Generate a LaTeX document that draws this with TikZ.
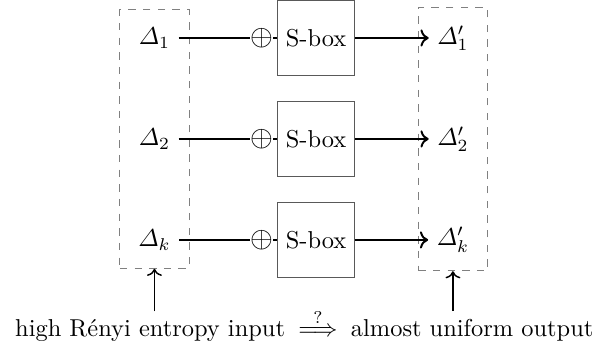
\documentclass[tikz,border=0pt]{standalone}
\usepackage{amsmath,amssymb}
\usetikzlibrary{positioning,fit,arrows.meta}

\begin{document}
\begin{tikzpicture}[
  sbox/.style={rectangle, draw=black!65, minimum width=1.108cm,
               minimum height=1.079cm},
  xorop/.style={inner sep=0pt, font=\large},
  frame/.style={draw=gray, dashed, inner xsep=4pt, inner ysep=3.9pt},
  wire/.style={thick},
  arr/.style={->, thick},
  up/.style={->, semithick},
  node distance=1.453cm
]
  % input differences
  \node (d1) {$\varDelta_1$};
  \node[below of=d1] (d2) {$\varDelta_2$};
  \node[below of=d2] (dk) {$\varDelta_k$};
  % key addition
  \node[xorop, right of=d1, node distance=1.54cm] (x1) {$\oplus$};
  \node[xorop, right of=d2, node distance=1.54cm] (x2) {$\oplus$};
  \node[xorop, right of=dk, node distance=1.54cm] (xk) {$\oplus$};
  % S-boxes
  \node[sbox, right of=d1, node distance=2.325cm] (s1) {S-box};
  \node[sbox, right of=d2, node distance=2.325cm] (s2) {S-box};
  \node[sbox, right of=dk, node distance=2.325cm] (sk) {S-box};
  % output differences
  \node[right of=d1, node distance=4.295cm] (o1) {$\varDelta'_1$};
  \node[right of=d2, node distance=4.295cm] (o2) {$\varDelta'_2$};
  \node[right of=dk, node distance=4.295cm] (ok) {$\varDelta'_k$};

  \node[frame, fit=(d1)(dk)] (lbox) {};
  \node[frame, fit=(o1)(ok)] (rbox) {};

  \draw[wire] (d1) -- (x1) -- (s1);
  \draw[wire] (d2) -- (x2) -- (s2);
  \draw[wire] (dk) -- (xk) -- (sk);
  \draw[arr] (s1) -- (o1);
  \draw[arr] (s2) -- (o2);
  \draw[arr] (sk) -- (ok);

  % caption line
  \node[anchor=base, inner xsep=1.7pt, xshift=0.8pt, yshift=-1.396cm] (imp)
    at (sk) {$\overset{?}{\Longrightarrow}$};
  \node[anchor=base east] (inp) at (imp.base west)
    {high Rényi entropy input};
  \node[anchor=base west] (outp) at (imp.base east)
    {almost uniform output};
  \draw[up] (inp.north -| lbox.south) -- (lbox.south);
  \draw[up] (outp.north -| rbox.south) -- (rbox.south);

  % page frame
  \path (inp.base west) ++(-2.7pt,-5pt) coordinate (bl);
  \path (inp.base west |- s1.north) ++(240.9pt,0pt) coordinate (tr);
  \pgfresetboundingbox
  \useasboundingbox (bl) rectangle (tr);
\end{tikzpicture}
\end{document}
